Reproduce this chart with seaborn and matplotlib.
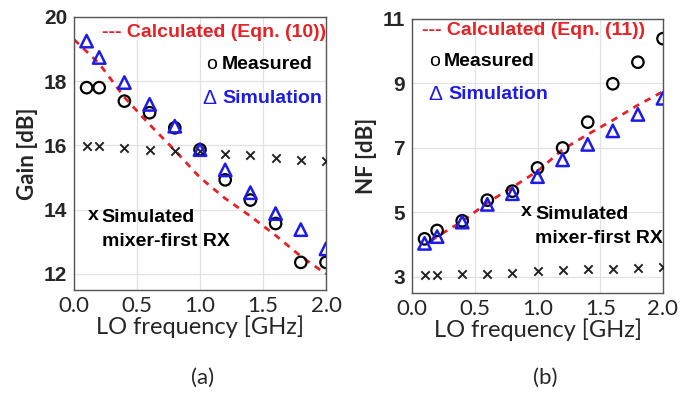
import matplotlib
matplotlib.use("Agg")
import matplotlib.pyplot as plt
import pandas as pd
import seaborn as sns

# LO frequency points [GHz]
freq = [0.1, 0.2, 0.4, 0.6, 0.8, 1.0, 1.2, 1.4, 1.6, 1.8, 2.0]

# (a) gain [dB]
gain_measured = [17.80, 17.80, 17.38, 17.02, 16.55, 15.87, 14.93, 14.30, 13.57, 12.36, 12.36]
gain_sim = [19.25, 18.74, 17.96, 17.28, 16.60, 15.87, 15.24, 14.53, 13.88, 13.38, 12.78]
gain_mixer = [15.97, 15.97, 15.92, 15.85, 15.82, 15.82, 15.74, 15.69, 15.61, 15.55, 15.52]
calc_freq_a = [0.0, 0.2, 0.4, 0.6, 0.8, 1.0, 1.2, 1.4, 1.6, 1.8, 2.0]
gain_calc = [19.30, 18.55, 17.50, 16.65, 15.85, 15.00, 14.35, 13.80, 13.20, 12.55, 12.00]

# (b) noise figure [dB]
nf_measured = [4.18, 4.44, 4.74, 5.38, 5.66, 6.38, 7.00, 7.80, 8.99, 9.66, 10.39]
nf_sim = [4.04, 4.25, 4.70, 5.25, 5.58, 6.11, 6.63, 7.11, 7.53, 8.04, 8.54]
nf_mixer = [3.07, 3.07, 3.10, 3.10, 3.13, 3.18, 3.21, 3.24, 3.26, 3.28, 3.31]
calc_freq_b = [0.15, 0.2, 0.4, 0.6, 0.8, 1.0, 1.2, 1.4, 1.6, 1.8, 2.0]
nf_calc = [4.12, 4.25, 4.72, 5.30, 5.78, 6.28, 6.95, 7.42, 7.86, 8.33, 8.75]

RED = "#e62226"
BLUE = "#1c1ce6"
BOLD_FONT = ["Liberation Sans", "DejaVu Sans"]
LABEL_FONT = ["Lato", "DejaVu Sans"]

sns.set_theme(style="whitegrid")
plt.rcParams["font.family"] = BOLD_FONT


def draw_panel(ax, measured, sim, mixer, calc_x, calc_y, ylim, yticks, ylabel):
    df = pd.DataFrame({"f": freq, "meas": measured, "sim": sim, "mix": mixer})
    calc = pd.DataFrame({"f": calc_x, "y": calc_y})
    sns.lineplot(data=calc, x="f", y="y", ax=ax, color=RED, lw=2.0,
                 linestyle=(0, (2.4, 2.2)), zorder=2)
    sns.scatterplot(data=df, x="f", y="mix", ax=ax, marker="x", s=36,
                    color="#222222", linewidth=1.4, zorder=3)
    sns.scatterplot(data=df, x="f", y="meas", ax=ax, marker="o", s=68,
                    facecolor="none", edgecolor="black", linewidth=1.6, zorder=4)
    sns.scatterplot(data=df, x="f", y="sim", ax=ax, marker="^", s=80,
                    facecolor="none", edgecolor=BLUE, linewidth=1.8, zorder=5)
    ax.set_xlim(0, 2)
    ax.set_ylim(*ylim)
    ax.set_xticks([0.0, 0.5, 1.0, 1.5, 2.0])
    ax.set_xticklabels(["0.0", "0.5", "1.0", "1.5", "2.0"], family=LABEL_FONT, fontsize=16)
    ax.set_yticks(yticks)
    ax.set_yticklabels([str(t) for t in yticks], family=BOLD_FONT,
                       fontweight="bold", fontsize=15)
    ax.tick_params(length=0, pad=5)
    ax.tick_params(axis="x", pad=4)
    ax.set_xlabel("LO frequency [GHz]", family=LABEL_FONT, fontsize=17, labelpad=0)
    ax.set_ylabel(ylabel, family=LABEL_FONT, fontweight="bold", fontsize=16, labelpad=4)
    ax.grid(True, color="#e2e2e2", lw=0.9)
    ax.set_facecolor("white")
    for sp in ax.spines.values():
        sp.set_color("#555555")
        sp.set_linewidth(1.0)


fig = plt.figure(figsize=(6.94, 3.95), dpi=100)
ax_a = fig.add_axes([74 / 694, 1 - 290 / 395, 252 / 694, 273 / 395])
ax_b = fig.add_axes([412 / 694, 1 - 293 / 395, 251 / 694, 274 / 395])

draw_panel(ax_a, gain_measured, gain_sim, gain_mixer, calc_freq_a, gain_calc,
           (11.5, 20), [12, 14, 16, 18, 20], "Gain [dB]")
draw_panel(ax_b, nf_measured, nf_sim, nf_mixer, calc_freq_b, nf_calc,
           (2.5, 11), [3, 5, 7, 9, 11], "NF [dB]")

txt = dict(fontsize=14, fontweight="bold", va="center", family=BOLD_FONT)

# panel (a) annotations
ax_a.text(0.22, 19.51, "--- Calculated (Eqn. (10))", color=RED, **txt)
ax_a.text(1.05, 18.51, "o", color="black", fontsize=14, va="center", family=BOLD_FONT)
ax_a.text(1.17, 18.51, "Measured", color="black", **txt)
ax_a.text(1.02, 17.47, "\u0394", color=BLUE, fontsize=15, va="center", family=BOLD_FONT)
ax_a.text(1.18, 17.47, "Simulation", color=BLUE, **txt)
ax_a.text(0.11, 13.83, "x", color="black", **txt)
ax_a.text(0.22, 13.38, "Simulated\nmixer-first RX", color="black",
          linespacing=1.5, **txt)

# panel (b) annotations
ax_b.text(0.08, 10.63, "--- Calculated (Eqn. (11))", color=RED, **txt)
ax_b.text(0.14, 9.69, "o", color="black", fontsize=14, va="center", family=BOLD_FONT)
ax_b.text(0.255, 9.69, "Measured", color="black", **txt)
ax_b.text(0.13, 8.65, "\u0394", color=BLUE, fontsize=15, va="center", family=BOLD_FONT)
ax_b.text(0.29, 8.65, "Simulation", color=BLUE, **txt)
ax_b.text(0.87, 5.04, "x", color="black", **txt)
ax_b.text(0.98, 4.57, "Simulated\nmixer-first RX", color="black",
          linespacing=1.5, **txt)

fig.text(203 / 694, 1 - 378 / 395, "(a)", family=LABEL_FONT, fontsize=16,
         ha="center", va="center")
fig.text(545 / 694, 1 - 378 / 395, "(b)", family=LABEL_FONT, fontsize=16,
         ha="center", va="center")

fig.savefig("out.png", dpi=100)
